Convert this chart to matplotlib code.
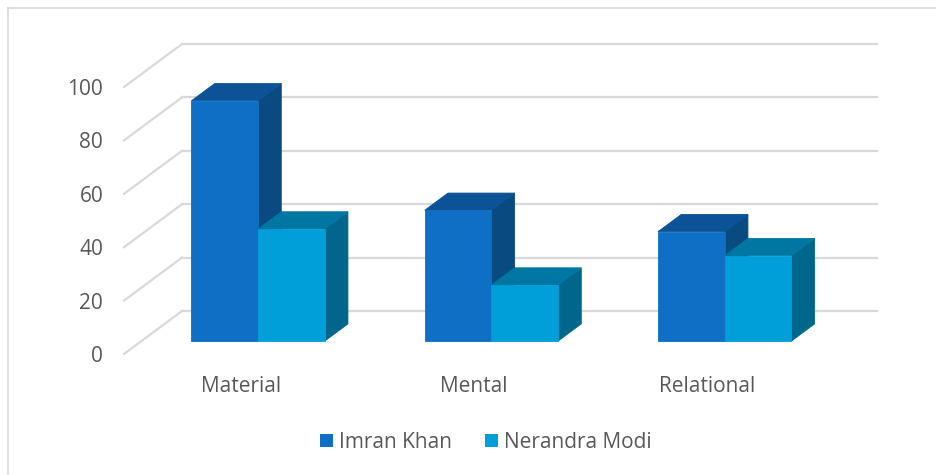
import matplotlib
matplotlib.use("Agg")
import matplotlib.pyplot as plt
from matplotlib.patches import Polygon, Rectangle
from matplotlib.lines import Line2D

categories = ["Material", "Mental", "Relational"]
series_names = ["Imran Khan", "Nerandra Modi"]
imran_khan = [90, 49, 41]
nerandra_modi = [42, 21, 32]
y_ticks = [0, 20, 40, 60, 80, 100]

front_colors = ["#0E6FC5", "#009FD9"]
top_colors = ["#0B5396", "#0077A3"]
side_colors = ["#094A80", "#00668C"]
grid_color = "#D9D9D9"
text_color = "#595959"

plt.rcParams['font.family'] = ['Open Sans', 'DejaVu Sans']

W, H = 936, 475
fig = plt.figure(figsize=(W / 100, H / 100), dpi=100)
fig.patch.set_facecolor("white")

# front-plane of the 3D box in figure fractions
left_px, right_px = 124, 824
y0_px, y100_px = 354, 87
ax = fig.add_axes([left_px / W, (H - y0_px) / H, (right_px - left_px) / W, (y0_px - y100_px) / H])
ax.set_xlim(0, len(categories))
ax.set_ylim(0, 100)
for s in ax.spines.values():
    s.set_visible(False)
ax.patch.set_visible(False)

# depth offset (in data units) of the full floor depth
cat_px = (right_px - left_px) / len(categories)
val_px = (y0_px - y100_px) / 100
DX = 58 / cat_px
DY = 43 / val_px
d_front, d_back = 0.30, 0.70
bar_w = 1 / 3.5
wall_end = len(categories) - 5 / cat_px

# gridlines: side wall diagonals + back wall horizontals
for v in y_ticks:
    ax.add_line(Line2D([0, DX], [v, v + DY], color=grid_color, lw=1.6, zorder=1, clip_on=False))
    ax.add_line(Line2D([DX, wall_end + DX], [v + DY, v + DY], color=grid_color, lw=1.6,
                       zorder=1, clip_on=False))


def draw_bar(x0, w, h, k, z):
    fx, fy = d_front * DX, d_front * DY
    bx, by = d_back * DX, d_back * DY
    front = [(x0 + fx, fy), (x0 + w + fx, fy), (x0 + w + fx, h + fy), (x0 + fx, h + fy)]
    top = [(x0 + fx, h + fy), (x0 + w + fx, h + fy), (x0 + w + bx, h + by), (x0 + bx, h + by)]
    side = [(x0 + w + fx, fy), (x0 + w + bx, by), (x0 + w + bx, h + by), (x0 + w + fx, h + fy)]
    for pts, col in ((side, side_colors[k]), (top, top_colors[k]), (front, front_colors[k])):
        ax.add_patch(Polygon(pts, closed=True, facecolor=col, edgecolor=col, lw=0.6,
                             zorder=z, clip_on=False))


z = 3
for i in range(len(categories)):
    c = i + 0.5
    for k, vals in enumerate([imran_khan, nerandra_modi]):
        x0 = c - bar_w + k * bar_w
        draw_bar(x0, bar_w, vals[i], k, z)
        z += 1

ax.set_yticks(y_ticks)
ax.set_yticklabels([str(t) for t in y_ticks])
ax.set_xticks([i + 0.5 for i in range(len(categories))])
ax.set_xticklabels(categories)
ax.tick_params(axis='y', length=0, pad=15, labelsize=15, labelcolor=text_color)
ax.tick_params(axis='x', length=0, pad=16, labelsize=15, labelcolor=text_color)

handles = [Rectangle((0, 0), 1, 1, facecolor=front_colors[k], edgecolor='none') for k in range(2)]
fig.legend(handles, series_names, loc='center', bbox_to_anchor=(486 / W, (H - 442) / H),
           ncol=2, frameon=False, fontsize=15, labelcolor=text_color,
           handlelength=0.6, handleheight=0.6, handletextpad=0.3, columnspacing=1.6)

# chart area border (top and left visible)
fig.add_artist(Line2D([8 / W, 1], [(H - 8) / H, (H - 8) / H], color="#D9D9D9", lw=1.2,
                      transform=fig.transFigure))
fig.add_artist(Line2D([8 / W, 8 / W], [0, (H - 8) / H], color="#D9D9D9", lw=1.2,
                      transform=fig.transFigure))

fig.savefig("out.png", dpi=100, facecolor="white")
